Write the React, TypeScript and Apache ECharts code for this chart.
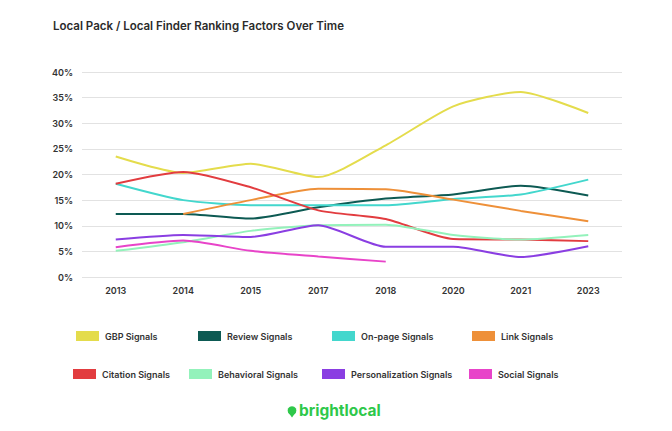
import React, { useEffect, useRef } from "react";
import * as echarts from "echarts";

const years = ["2013", "2014", "2015", "2017", "2018", "2020", "2021", "2023"];
const gbp = [23.5, 20.3, 22.1, 19.5, 25.7, 33.3, 36.1, 32.0];
const review = [12.3, 12.3, 11.4, 13.6, 15.3, 16.1, 17.8, 15.9];
const onPage = [18.2, 15.0, 14.0, 14.0, 14.0, 15.2, 16.1, 19.0];
const link = [null, 12.3, 15.0, 17.2, 17.1, 15.1, 12.9, 10.9];
const citation = [18.2, 20.5, 17.5, 13.0, 11.3, 7.4, 7.3, 7.0];
const behavioral = [5.1, 6.8, 9.0, 10.1, 10.2, 8.2, 7.3, 8.2];
const personalization = [7.3, 8.2, 7.8, 10.1, 5.9, 5.9, 3.9, 6.0];
const social = [5.8, 7.1, 5.1, 4.0, 3.0, null, null, null];

const seriesNames = [
  "GBP Signals",
  "Review Signals",
  "On-page Signals",
  "Link Signals",
  "Citation Signals",
  "Behavioral Signals",
  "Personalization Signals",
  "Social Signals",
];
const seriesData = [gbp, review, onPage, link, citation, behavioral, personalization, social];
const colors = ["#e4dc4c", "#0d5a53", "#43d7cd", "#ee9039", "#e23c3f", "#93f2bb", "#8a3ee2", "#e844c9"];

const legendPos = [
  [76, 331],
  [198, 331],
  [332, 331],
  [472, 331],
  [73, 369],
  [189, 369],
  [322, 369],
  [469, 369],
];

const FONT = "Inter, 'Noto Sans', sans-serif";

export default function App() {
  const ref = useRef<HTMLDivElement>(null);
  useEffect(() => {
    if (!ref.current) return;
    const chart = echarts.init(ref.current, undefined, { renderer: "svg" });
    chart.setOption({
      animation: false,
      backgroundColor: "#ffffff",
      title: {
        text: "Local Pack / Local Finder Ranking Factors Over Time",
        left: 53,
        top: 20,
        padding: 0,
        textStyle: { fontFamily: FONT, fontSize: 11.5, fontWeight: 600, color: "#2b2b2b" },
      },
      grid: { left: 82, right: 50, top: 72, bottom: 154 },
      xAxis: {
        type: "category",
        data: years,
        boundaryGap: true,
        axisLine: { show: false },
        axisTick: { show: false },
        axisLabel: { fontFamily: FONT, fontSize: 9, fontWeight: 600, color: "#333", margin: 9 },
      },
      yAxis: {
        type: "value",
        min: 0,
        max: 40,
        interval: 5,
        axisLine: { show: false },
        axisTick: { show: false },
        axisLabel: {
          formatter: "{value}%",
          fontFamily: FONT,
          fontSize: 9,
          fontWeight: 600,
          color: "#333",
          margin: 9,
        },
        splitLine: { lineStyle: { color: "#e2e2e2", width: 1 } },
      },
      legend: seriesNames.map((n, i) => ({
        data: [n],
        left: legendPos[i][0],
        top: legendPos[i][1],
        padding: 0,
        icon: "rect",
        itemWidth: 23,
        itemHeight: 10,
        selectedMode: false,
        textStyle: { fontFamily: FONT, fontSize: 9, fontWeight: 600, color: "#333", padding: [0, 0, 0, 1] },
      })),
      series: seriesNames.map((n, i) => ({
        name: n,
        type: "line",
        data: seriesData[i],
        smooth: 0.22,
        showSymbol: false,
        symbol: "none",
        connectNulls: false,
        itemStyle: { color: colors[i] },
        lineStyle: { color: colors[i], width: 2 },
      })),
      graphic: [
        {
          type: "text",
          left: 299,
          top: 402,
          style: {
            text: "brightlocal",
            fontFamily: FONT,
            fontSize: 15.5,
            fontWeight: 700,
            fill: "#2ec84a",
          },
        },
        {
          type: "circle",
          shape: { cx: 292, cy: 410.5, r: 4.3 },
          style: { fill: "#2ec84a" },
        },
        {
          type: "polygon",
          shape: { points: [[288, 412], [296, 412], [292, 417.5]] },
          style: { fill: "#2ec84a" },
        },
      ],
    });
    return () => chart.dispose();
  }, []);
  return (
    <div
      ref={ref}
      style={{ position: "fixed", left: 0, top: 0, width: 672, height: 431 }}
    />
  );
}
